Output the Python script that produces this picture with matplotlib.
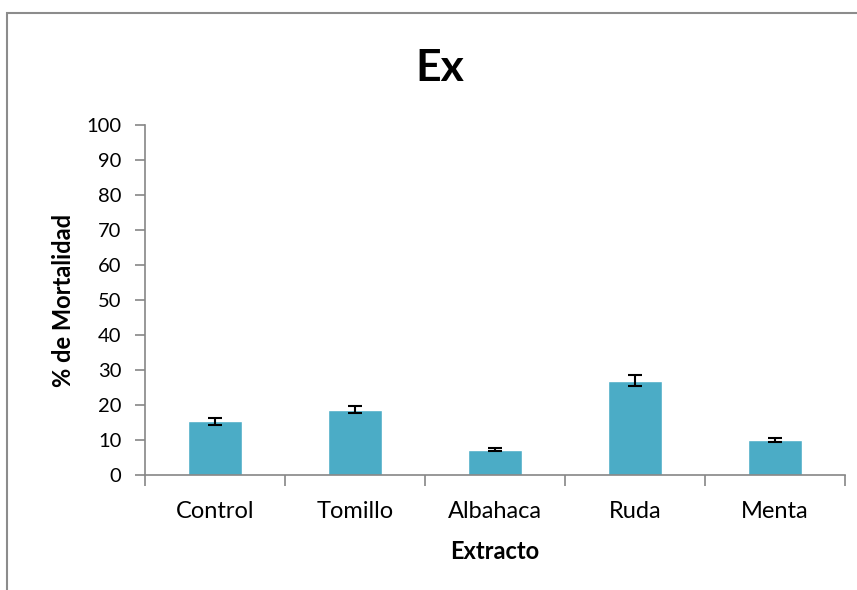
import matplotlib.pyplot as plt
import numpy as np
from matplotlib.patches import Rectangle

extractos = ['Control', 'Tomillo', 'Albahaca', 'Ruda', 'Menta']
mortalidad = [15.3, 18.7, 7.2, 27.0, 9.9]
error = [0.9, 1.0, 0.4, 1.5, 0.6]

plt.rcParams['font.family'] = ['Lato', 'DejaVu Sans']

fig = plt.figure(figsize=(8.57, 5.90), dpi=100)
ax = fig.add_axes([145/857, 1 - 475/590, 700/857, 350/590])

# marco del grafico (sale por la derecha y abajo)
fig.patches.append(Rectangle((7/857, -0.05), 1.1, 1 - 13/590 + 0.05,
                             transform=fig.transFigure, fill=False,
                             edgecolor='#8c8c8c', linewidth=1.5))

x = np.arange(len(extractos))
ax.bar(x, mortalidad, width=0.39, color='#4BACC6', edgecolor='white',
       linewidth=1.0, zorder=2)
ax.errorbar(x, mortalidad, yerr=error, fmt='none', ecolor='black',
            elinewidth=1.5, capsize=5, capthick=1.5, zorder=3)

ax.set_xlim(-0.5, len(extractos) - 0.5)
ax.set_ylim(0, 100)
ax.set_yticks(np.arange(0, 101, 10))
ax.set_xticks(x)
ax.set_xticklabels(extractos, fontsize=17)
ax.tick_params(axis='x', length=0, pad=19)
ax.set_xticks(np.arange(-0.5, len(extractos)), minor=True)
ax.tick_params(axis='x', which='minor', length=8, color='#868686', width=1.2)
ax.tick_params(axis='y', labelsize=14.5, length=7, color='#868686', width=1.2, pad=10)

for s in ['top', 'right']:
    ax.spines[s].set_visible(False)
for s in ['left', 'bottom']:
    ax.spines[s].set_color('#868686')
    ax.spines[s].set_linewidth(1.2)

ax.set_ylabel('% de Mortalidad', fontsize=17, fontweight='bold', labelpad=8)
ax.set_xlabel('Extracto', fontsize=17, fontweight='bold', labelpad=13)
fig.text(440/857, 1 - 68/590, 'Ex', fontsize=32, fontweight='bold',
         ha='center', va='center')

fig.savefig('out.png', dpi=100)
